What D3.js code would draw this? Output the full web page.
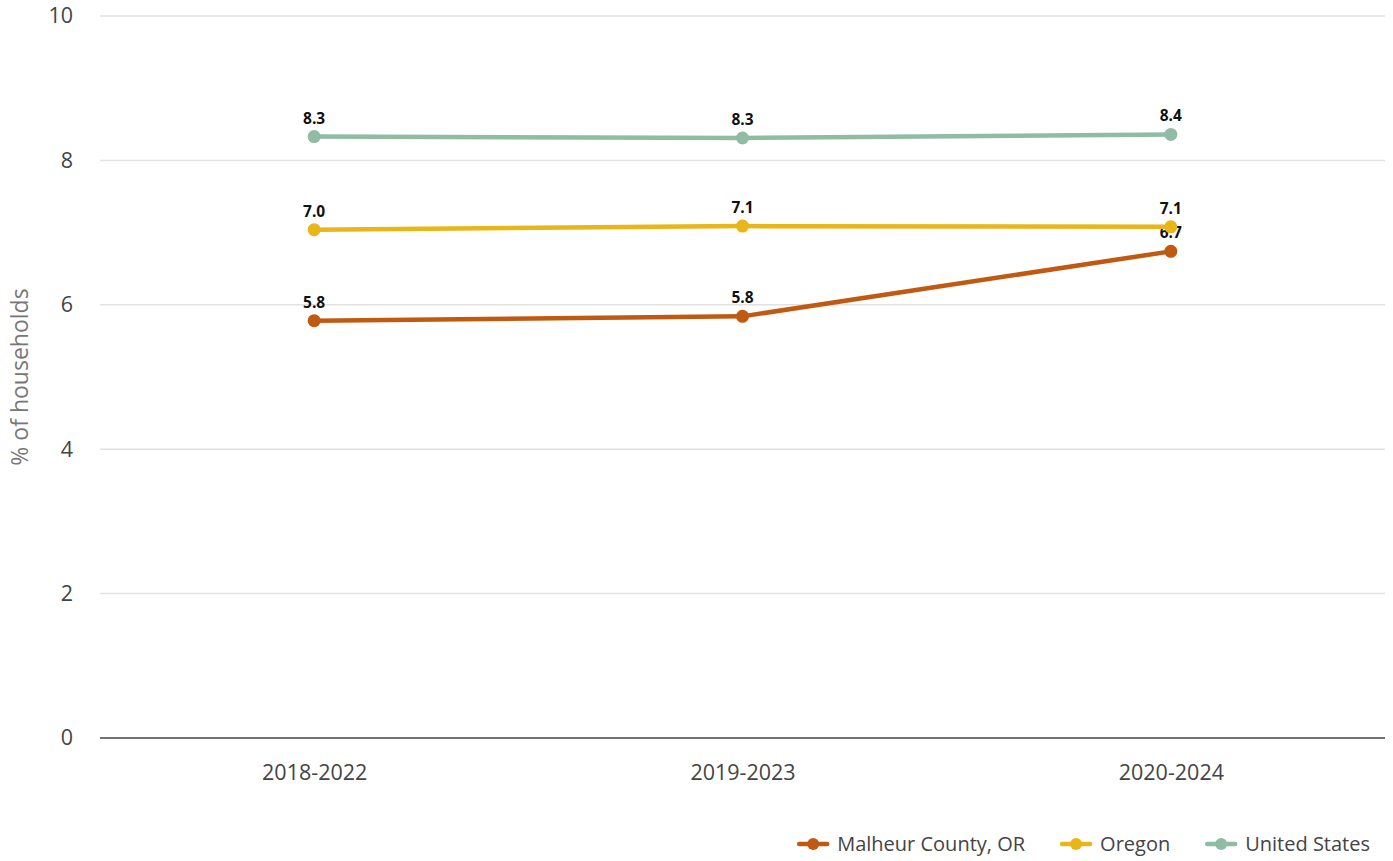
<!DOCTYPE html>
<html>
<head>
<meta charset="utf-8">
<script src="https://cdn.jsdelivr.net/npm/d3@7"></script>
<style>
  html, body { margin: 0; padding: 0; background: #fff; }
  svg { display: block; font-family: "Open Sans", "Noto Sans", sans-serif; }
</style>
</head>
<body>
<svg id="chart" width="1393" height="861"></svg>
<script>
// Share of households, three overlapping 5-year periods
const periods = ["2018-2022", "2019-2023", "2020-2024"];
const seriesNames = ["Malheur County, OR", "Oregon", "United States"];
const malheurValues = [5.78, 5.84, 6.74];
const oregonValues = [7.04, 7.09, 7.08];
const usValues = [8.33, 8.31, 8.36];
const yTicks = [0, 2, 4, 6, 8, 10];
const seriesColors = ["#C05A12", "#E8B619", "#8FBCA2"];

const series = [
  { name: seriesNames[0], values: malheurValues, color: seriesColors[0] },
  { name: seriesNames[1], values: oregonValues, color: seriesColors[1] },
  { name: seriesNames[2], values: usValues, color: seriesColors[2] }
];

const svg = d3.select("#chart");
const margin = { left: 100, right: 8, top: 16, bottom: 123 };
const W = 1393, H = 861;

const x = d3.scalePoint().domain(periods).range([margin.left, W - margin.right]).padding(0.5);
const y = d3.scaleLinear().domain([0, 10]).range([H - margin.bottom, margin.top]);

// Horizontal gridlines
svg.append("g")
  .selectAll("line")
  .data(yTicks.filter(t => t !== 0))
  .join("line")
  .attr("x1", margin.left).attr("x2", W - margin.right)
  .attr("y1", d => y(d)).attr("y2", d => y(d))
  .attr("stroke", "#e2e2e2").attr("stroke-width", 1.5);

// Y axis tick labels
const yAxis = svg.append("g")
  .attr("transform", `translate(${margin.left},0)`)
  .call(d3.axisLeft(y).tickValues(yTicks).tickSize(0).tickPadding(27));
yAxis.select(".domain").remove();
yAxis.selectAll("text").attr("font-size", 21.5).attr("fill", "#444").attr("font-family", "'Open Sans', sans-serif");

// Baseline
svg.append("line")
  .attr("x1", margin.left).attr("x2", W - margin.right)
  .attr("y1", y(0)).attr("y2", y(0))
  .attr("stroke", "#444").attr("stroke-width", 1.5);

// X axis labels
const xAxis = svg.append("g")
  .attr("transform", `translate(0,${y(0)})`)
  .call(d3.axisBottom(x).tickSize(0).tickPadding(27));
xAxis.select(".domain").remove();
xAxis.selectAll("text").attr("font-size", 21.5).attr("fill", "#444").attr("font-family", "'Open Sans', sans-serif");

// Y axis title
svg.append("text")
  .attr("transform", `translate(28,${(y(0) + y(10)) / 2}) rotate(-90)`)
  .attr("text-anchor", "middle")
  .attr("font-size", 23)
  .attr("fill", "#777")
  .text("% of households");

// Lines, markers and value labels
const line = d3.line().x((d, i) => x(periods[i])).y(d => y(d));
const gSeries = svg.append("g").selectAll("g").data(series).join("g");

gSeries.append("path")
  .attr("d", d => line(d.values))
  .attr("fill", "none")
  .attr("stroke", d => d.color)
  .attr("stroke-width", 4.5)
  .attr("stroke-linejoin", "round");

gSeries.selectAll("circle")
  .data(d => d.values.map((v, i) => ({ v, i, color: d.color })))
  .join("circle")
  .attr("cx", d => x(periods[d.i]))
  .attr("cy", d => y(d.v))
  .attr("r", 6.5)
  .attr("fill", d => d.color);

gSeries.selectAll("text.val")
  .data(d => d.values.map((v, i) => ({ v, i })))
  .join("text")
  .attr("class", "val")
  .attr("x", d => x(periods[d.i]))
  .attr("y", d => y(d.v) - 13)
  .attr("text-anchor", "middle")
  .attr("font-size", 15.5)
  .attr("font-weight", "bold")
  .attr("fill", "#111")
  .text(d => d.v.toFixed(1));

// Legend, laid out right to left so it ends near the right edge
const legend = svg.append("g").attr("transform", `translate(0,${844})`);
const items = series.map(s => {
  const g = legend.append("g");
  g.append("line").attr("x1", 0).attr("x2", 28).attr("y1", 0).attr("y2", 0)
    .attr("stroke", s.color).attr("stroke-width", 4.5).attr("stroke-linecap", "round");
  g.append("circle").attr("cx", 14).attr("cy", 0).attr("r", 6).attr("fill", s.color);
  const t = g.append("text").attr("x", 38).attr("y", 0).attr("dy", "0.35em")
    .attr("font-size", 20).attr("fill", "#444").text(s.name);
  return { g, w: 38 + t.node().getComputedTextLength() };
});
let cursor = 1370;
for (let i = items.length - 1; i >= 0; i--) {
  cursor -= items[i].w;
  items[i].g.attr("transform", `translate(${cursor},0)`);
  cursor -= 37;
}
</script>
</body>
</html>
